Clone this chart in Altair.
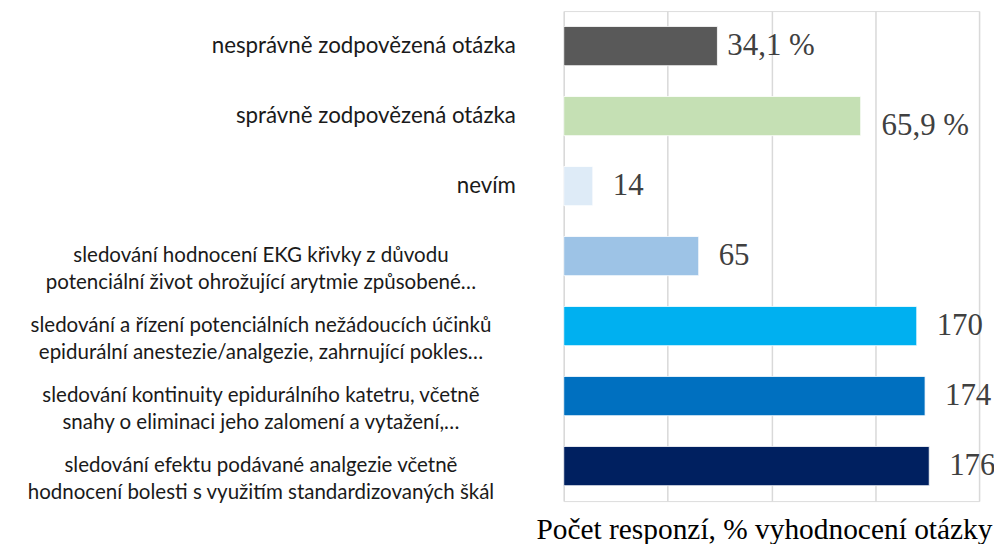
import altair as alt
import pandas as pd

categories = [
    "nesprávně zodpovězená otázka",
    "správně zodpovězená otázka",
    "nevím",
    "sledování hodnocení EKG křivky z důvodu\npotenciální život ohrožující arytmie způsobené…",
    "sledování a řízení potenciálních nežádoucích účinků\nepidurální anestezie/analgezie, zahrnující pokles…",
    "sledování kontinuity epidurálního katetru, včetně\nsnahy o eliminaci jeho zalomení a vytažení,…",
    "sledování efektu podávané analgezie včetně\nhodnocení bolesti s využitím standardizovaných škál",
]
values = [74, 143, 14, 65, 170, 174, 176]
labels = ["34,1 %", "65,9 %", "14", "65", "170", "174", "176"]
colors = ["#595959", "#c5e0b4", "#deebf7", "#9dc3e6", "#00b0f0", "#0070c0", "#002060"]

df = pd.DataFrame({
    "cat": categories,
    "value": values,
    "label": labels,
    "idx": list(range(len(categories))),
    "multi": ["\n" in c for c in categories],
})

y = alt.Y("cat:N", sort=categories, axis=None,
          scale=alt.Scale(paddingInner=0.44, paddingOuter=0.22))
x = alt.X("value:Q", scale=alt.Scale(domain=[0, 200], nice=False),
          axis=alt.Axis(values=[0, 50, 100, 150, 200], labels=False, ticks=False,
                        domain=False, grid=True, gridColor="#d9d9d9", gridWidth=1.5,
                        title="Počet responzí, % vyhodnocení otázky",
                        titleFont="Liberation Serif", titleFontSize=29.5,
                        titleFontWeight="normal", titleColor="#000000",
                        titlePadding=15, titleX=201))

base = alt.Chart(df)

bars = base.mark_bar(stroke="#ffffff", strokeWidth=0.8).encode(
    x=x, y=y,
    color=alt.Color("cat:N", sort=categories,
                    scale=alt.Scale(domain=categories, range=colors), legend=None),
)

val_style = dict(align="left", baseline="middle", font="Liberation Serif",
                 fontSize=31, color="#404040")

vals_main = base.transform_filter("datum.idx >= 2").mark_text(dx=20, **val_style).encode(
    x="value:Q", y=y, text="label:N")
vals_0 = base.transform_filter("datum.idx == 0").mark_text(dx=10, **val_style).encode(
    x="value:Q", y=y, text="label:N")
vals_1 = base.transform_filter("datum.idx == 1").mark_text(dx=21, dy=10, **val_style).encode(
    x="value:Q", y=y, text="label:N")

lab_style = dict(baseline="middle", font="Lato", color="#1a1a1a",
                 lineBreak="\n", lineHeight=27)
labs_single = base.transform_filter("!datum.multi").mark_text(
    align="right", fontSize=22.4, **lab_style).encode(
    x=alt.value(-48), y=y, text="cat:N")
labs_multi = base.transform_filter("datum.multi").mark_text(
    align="center", fontSize=20.6, **lab_style).encode(
    x=alt.value(-304), y=y, text="cat:N")

chart = alt.layer(bars, vals_main, vals_0, vals_1, labs_single, labs_multi).properties(
    width=417, height=492,
    padding={"left": 558, "top": 2, "right": 15, "bottom": 42},
    autosize="none",
).configure_view(stroke=None).configure(background="#ffffff")

chart.save("out.html", embed_options={"renderer": "svg", "actions": False})
